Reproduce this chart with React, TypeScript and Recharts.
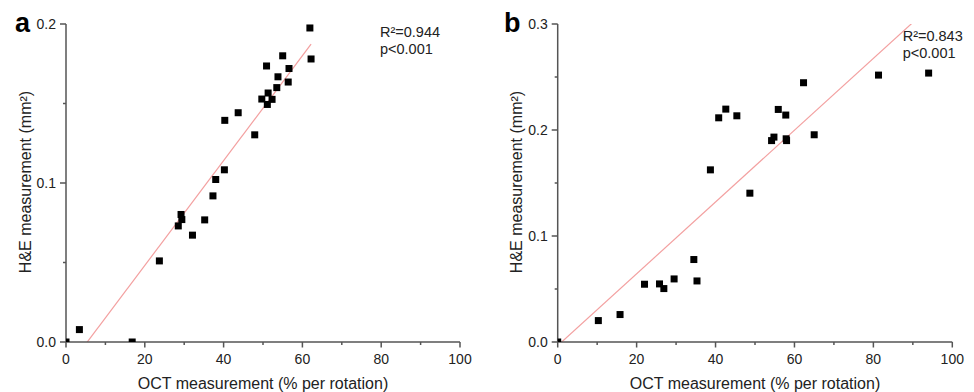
import { ScatterChart, Scatter, XAxis, YAxis, ReferenceLine } from 'recharts'

// panel a: OCT (% per rotation) vs H&E (mm²)
const octA = [0, 3.4, 16.8, 23.7, 28.5, 29.2, 29.4, 32.1, 35.2, 37.3, 38.0, 40.2, 40.3, 43.7, 47.9, 49.7, 50.9, 51.1, 51.3, 52.3, 53.5, 53.8, 55.0, 56.4, 56.6, 61.9, 62.2]
const heA = [0, 0.0078, 0.0, 0.051, 0.073, 0.0802, 0.077, 0.0672, 0.0768, 0.0919, 0.1022, 0.1083, 0.1394, 0.1442, 0.1303, 0.1528, 0.1736, 0.1494, 0.1566, 0.1526, 0.16, 0.1668, 0.18, 0.1635, 0.172, 0.1975, 0.178]

// panel b
const octB = [0, 10.3, 15.8, 22.0, 25.8, 26.9, 29.5, 34.5, 35.3, 38.7, 40.8, 42.6, 45.4, 48.7, 54.2, 54.8, 55.9, 57.8, 57.9, 58.0, 62.3, 65.0, 81.3, 94.0]
const heB = [0, 0.0202, 0.0259, 0.0545, 0.0548, 0.0504, 0.0595, 0.0778, 0.0576, 0.1624, 0.2115, 0.2197, 0.2134, 0.1404, 0.19, 0.1933, 0.2194, 0.2141, 0.1917, 0.19, 0.2446, 0.1955, 0.2518, 0.2537]

// linear fit end points (x range of the data)
const fitA = [{ x: 0, y: -0.0178 }, { x: 62.2, y: 0.1873 }]
const fitB = [{ x: 0, y: -0.0034 }, { x: 94, y: 0.315 }]

const xTicks = [0, 10, 20, 30, 40, 50, 60, 70, 80, 90, 100]
const yTicksA = [0, 0.05, 0.1, 0.15, 0.2]
const yTicksB = [0, 0.05, 0.1, 0.15, 0.2, 0.25, 0.3]

const statsA = ['0.944', '<0.001']
const statsB = ['0.843', '<0.001']

const FONT = '"Liberation Sans", Arial, sans-serif'
const AXIS = '#555'
const TXT = '#222'

const zip = (xs: number[], ys: number[]) => xs.map((x, i) => ({ x, y: ys[i] }))

const XTick = (props: any) => {
  const { x, y, payload } = props
  const major = payload.value % 20 === 0
  return (
    <g>
      <line x1={x} x2={x} y1={y} y2={y + (major ? 5.5 : 3)} stroke={AXIS} strokeWidth={1.5} />
      {major && (
        <text x={x} y={y + 21.5} textAnchor="middle" fontSize={14} fill={TXT} fontFamily={FONT}>
          {payload.value}
        </text>
      )}
    </g>
  )
}

const YTick = (props: any) => {
  const { x, y, payload } = props
  const major = Math.round(payload.value * 100) % 10 === 0
  return (
    <g>
      <line x1={x - (major ? 6 : 3)} x2={x} y1={y} y2={y} stroke={AXIS} strokeWidth={1.5} />
      {major && (
        <text x={x - 10} y={y + 5} textAnchor="end" fontSize={14} fill={TXT} fontFamily={FONT}>
          {payload.value.toFixed(1)}
        </text>
      )}
    </g>
  )
}

const Square = (p: any) => <rect x={p.cx - 3.5} y={p.cy - 3.5} width={7} height={7} fill="#000" />

interface PanelProps {
  letter: string
  data: { x: number; y: number }[]
  fit: { x: number; y: number }[]
  yTicks: number[]
  yMax: number
  stats: string[]
  yAxisWidth: number
  right: number
  letterX: number
  yTitleX: number
  statsX: number
  statsY: number
}

function Panel(p: PanelProps) {
  const plotLeft = p.yAxisWidth
  const plotRight = 487 - p.right
  const cx = (plotLeft + plotRight) / 2
  return (
    <ScatterChart width={487} height={392} margin={{ top: 24, right: p.right, bottom: 0, left: 0 }}>
      <XAxis
        type="number"
        dataKey="x"
        domain={[0, 100]}
        ticks={xTicks}
        interval={0}
        allowDataOverflow
        height={50}
        tickSize={0}
        tickMargin={0}
        tickLine={false}
        axisLine={{ stroke: AXIS, strokeWidth: 1.5 }}
        tick={<XTick />}
      />
      <YAxis
        type="number"
        dataKey="y"
        domain={[0, p.yMax]}
        ticks={p.yTicks}
        interval={0}
        allowDataOverflow
        width={p.yAxisWidth}
        tickSize={0}
        tickMargin={0}
        tickLine={false}
        axisLine={{ stroke: AXIS, strokeWidth: 1.5 }}
        tick={<YTick />}
      />
      <ReferenceLine
        segment={p.fit}
        ifOverflow="hidden"
        stroke="#f3a0a0"
        strokeWidth={1.2}
      />
      <Scatter data={p.data} shape={<Square />} isAnimationActive={false} />

      <text x={p.letterX} y={32} fontSize={27} fontWeight="bold" fill="#000" fontFamily={FONT}>
        {p.letter}
      </text>
      <text
        x={p.yTitleX}
        y={182}
        transform={`rotate(-90, ${p.yTitleX}, 182)`}
        textAnchor="middle"
        dominantBaseline="central"
        fontSize={16}
        fill={TXT}
        fontFamily={FONT}
      >
        H&amp;E measurement (mm²)
      </text>
      <text x={cx} y={389} textAnchor="middle" fontSize={16} fill={TXT} fontFamily={FONT}>
        OCT measurement (% per rotation)
      </text>
      <text x={p.statsX} y={p.statsY} fontSize={14.5} fill={TXT} fontFamily={FONT}>
        <tspan x={p.statsX}>{`R²=${p.stats[0]}`}</tspan>
        <tspan x={p.statsX} dy={16.8}>{`p${p.stats[1]}`}</tspan>
      </text>
    </ScatterChart>
  )
}

export default function App() {
  return (
    <div style={{ position: 'absolute', left: 0, top: 0, width: 974, height: 392, background: '#fff', display: 'flex' }}>
      <Panel
        letter="a"
        data={zip(octA, heA)}
        fit={fitA}
        yTicks={yTicksA}
        yMax={0.2}
        stats={statsA}
        yAxisWidth={66}
        right={27}
        letterX={15}
        yTitleX={25}
        statsX={380}
        statsY={37}
      />
      <Panel
        letter="b"
        data={zip(octB, heB)}
        fit={fitB}
        yTicks={yTicksB}
        yMax={0.3}
        stats={statsB}
        yAxisWidth={70.7}
        right={21.7}
        letterX={17}
        yTitleX={29.5}
        statsX={415.7}
        statsY={41}
      />
    </div>
  )
}
